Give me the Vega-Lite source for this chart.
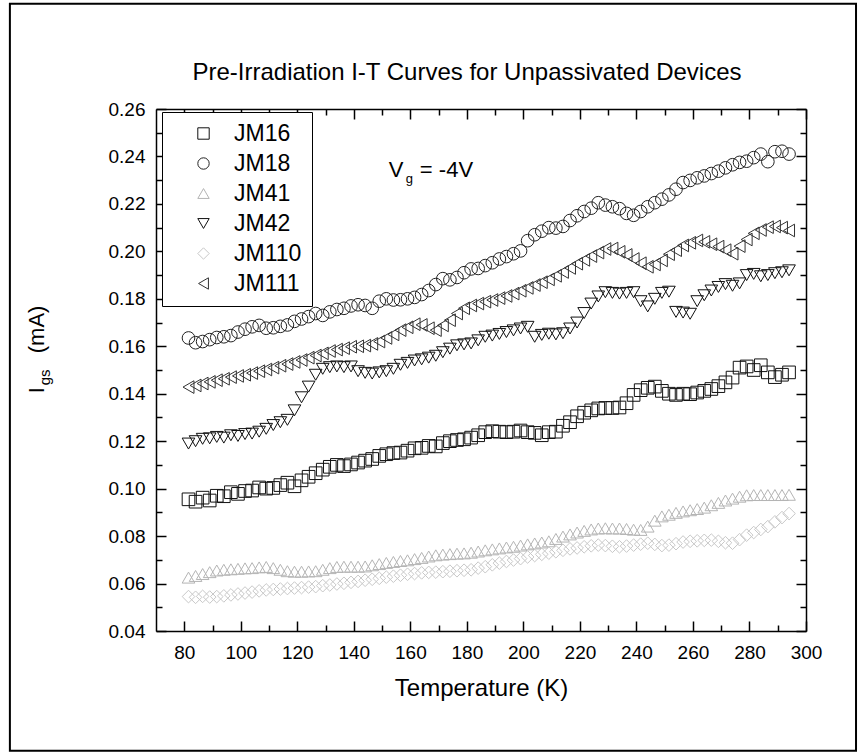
{
  "$schema": "https://vega.github.io/schema/vega-lite/v6.json",
  "width": 650,
  "height": 522,
  "autosize": {"type": "none"},
  "padding": {"left": 156, "top": 109, "right": 58, "bottom": 122},
  "background": "white",
  "title": {"text": "Pre-Irradiation I-T Curves for Unpassivated Devices", "fontSize": 24, "font": "Liberation Sans", "fontWeight": "normal", "baseline": "alphabetic", "offset": 0, "dy": 101, "dx": -14, "color": "black"},
  "config": {
    "font": "Liberation Sans",
    "view": {"stroke": null},
    "axis": {"domainColor": "black", "domainWidth": 1.5, "tickColor": "black", "tickWidth": 1.5, "labelColor": "black", "labelFontSize": 19, "labelFont": "Liberation Sans", "grid": false, "titleColor": "black", "titleFont": "Liberation Sans", "titleFontWeight": "normal", "labelFlush": false},
    "legend": {"orient": "none", "legendX": 6, "legendY": 3, "strokeColor": "black", "fillColor": "white", "padding": 10, "labelFontSize": 23, "labelFont": "Liberation Sans", "labelColor": "black", "symbolSize": 130, "symbolStrokeWidth": 1, "rowPadding": 6, "symbolOffset": 20, "labelOffset": 19}
  },
  "data": {"values": [
{"device":"JM16","T":81.5,"I":0.0955},{"device":"JM16","T":84,"I":0.0945},{"device":"JM16","T":86.5,"I":0.0962},{"device":"JM16","T":89,"I":0.0950},{"device":"JM16","T":91.5,"I":0.0970},{"device":"JM16","T":94,"I":0.0968},{"device":"JM16","T":96.5,"I":0.0985},{"device":"JM16","T":99,"I":0.0978},{"device":"JM16","T":101.5,"I":0.0990},{"device":"JM16","T":104,"I":0.0992},
{"device":"JM16","T":106.5,"I":0.1005},{"device":"JM16","T":109,"I":0.1000},{"device":"JM16","T":111.5,"I":0.1003},{"device":"JM16","T":114,"I":0.1015},{"device":"JM16","T":116.5,"I":0.1025},{"device":"JM16","T":119,"I":0.1010},{"device":"JM16","T":121.5,"I":0.1035},{"device":"JM16","T":124,"I":0.1050},{"device":"JM16","T":126.5,"I":0.1065},{"device":"JM16","T":129,"I":0.1080},
{"device":"JM16","T":131.5,"I":0.1092},{"device":"JM16","T":134,"I":0.1100},{"device":"JM16","T":136.5,"I":0.1095},{"device":"JM16","T":139,"I":0.1102},{"device":"JM16","T":141.5,"I":0.1110},{"device":"JM16","T":144,"I":0.1118},{"device":"JM16","T":146.5,"I":0.1125},{"device":"JM16","T":149,"I":0.1138},{"device":"JM16","T":151.5,"I":0.1145},{"device":"JM16","T":154,"I":0.1150},
{"device":"JM16","T":156.5,"I":0.1152},{"device":"JM16","T":159,"I":0.1160},{"device":"JM16","T":161.5,"I":0.1170},{"device":"JM16","T":164,"I":0.1172},{"device":"JM16","T":166.5,"I":0.1180},{"device":"JM16","T":169,"I":0.1178},{"device":"JM16","T":171.5,"I":0.1192},{"device":"JM16","T":174,"I":0.1200},{"device":"JM16","T":176.5,"I":0.1205},{"device":"JM16","T":179,"I":0.1208},
{"device":"JM16","T":181.5,"I":0.1215},{"device":"JM16","T":184,"I":0.1225},{"device":"JM16","T":186.5,"I":0.1238},{"device":"JM16","T":189,"I":0.1242},{"device":"JM16","T":191.5,"I":0.1240},{"device":"JM16","T":194,"I":0.1238},{"device":"JM16","T":196.5,"I":0.1240},{"device":"JM16","T":199,"I":0.1245},{"device":"JM16","T":201.5,"I":0.1238},{"device":"JM16","T":204,"I":0.1235},
{"device":"JM16","T":206.5,"I":0.1225},{"device":"JM16","T":209,"I":0.1238},{"device":"JM16","T":211.5,"I":0.1240},{"device":"JM16","T":214,"I":0.1265},{"device":"JM16","T":216.5,"I":0.1280},{"device":"JM16","T":219,"I":0.1305},{"device":"JM16","T":221.5,"I":0.1320},{"device":"JM16","T":224,"I":0.1330},{"device":"JM16","T":226.5,"I":0.1338},{"device":"JM16","T":229,"I":0.1340},
{"device":"JM16","T":231.5,"I":0.1340},{"device":"JM16","T":234,"I":0.1342},{"device":"JM16","T":236.5,"I":0.1360},{"device":"JM16","T":239,"I":0.1395},{"device":"JM16","T":241.5,"I":0.1415},{"device":"JM16","T":244,"I":0.1425},{"device":"JM16","T":246.5,"I":0.1430},{"device":"JM16","T":249,"I":0.1412},{"device":"JM16","T":251.5,"I":0.1400},{"device":"JM16","T":254,"I":0.1395},
{"device":"JM16","T":256.5,"I":0.1400},{"device":"JM16","T":259,"I":0.1398},{"device":"JM16","T":261.5,"I":0.1405},{"device":"JM16","T":264,"I":0.1412},{"device":"JM16","T":266.5,"I":0.1420},{"device":"JM16","T":269,"I":0.1432},{"device":"JM16","T":271.5,"I":0.1448},{"device":"JM16","T":274,"I":0.1468},{"device":"JM16","T":276.5,"I":0.1510},{"device":"JM16","T":279,"I":0.1515},
{"device":"JM16","T":281.5,"I":0.1500},{"device":"JM16","T":284,"I":0.1520},{"device":"JM16","T":286.5,"I":0.1490},{"device":"JM16","T":289,"I":0.1470},{"device":"JM16","T":291.5,"I":0.1480},{"device":"JM16","T":294,"I":0.1490},
{"device":"JM18","T":81.5,"I":0.1635},{"device":"JM18","T":84,"I":0.1615},{"device":"JM18","T":86.5,"I":0.1620},{"device":"JM18","T":89,"I":0.1628},{"device":"JM18","T":91.5,"I":0.1637},{"device":"JM18","T":94,"I":0.1640},{"device":"JM18","T":96.5,"I":0.1645},{"device":"JM18","T":99,"I":0.1660},{"device":"JM18","T":101.5,"I":0.1672},{"device":"JM18","T":104,"I":0.1682},
{"device":"JM18","T":106.5,"I":0.1688},{"device":"JM18","T":109,"I":0.1676},{"device":"JM18","T":111.5,"I":0.1678},{"device":"JM18","T":114,"I":0.1684},{"device":"JM18","T":116.5,"I":0.1690},{"device":"JM18","T":119,"I":0.1705},{"device":"JM18","T":121.5,"I":0.1715},{"device":"JM18","T":124,"I":0.1725},{"device":"JM18","T":126.5,"I":0.1738},{"device":"JM18","T":129,"I":0.1730},
{"device":"JM18","T":131.5,"I":0.1745},{"device":"JM18","T":134,"I":0.1755},{"device":"JM18","T":136.5,"I":0.1760},{"device":"JM18","T":139,"I":0.1770},{"device":"JM18","T":141.5,"I":0.1775},{"device":"JM18","T":144,"I":0.1772},{"device":"JM18","T":146.5,"I":0.1760},{"device":"JM18","T":149,"I":0.1790},{"device":"JM18","T":151.5,"I":0.1800},{"device":"JM18","T":154,"I":0.1795},
{"device":"JM18","T":156.5,"I":0.1796},{"device":"JM18","T":159,"I":0.1800},{"device":"JM18","T":161.5,"I":0.1806},{"device":"JM18","T":164,"I":0.1818},{"device":"JM18","T":166.5,"I":0.1835},{"device":"JM18","T":169,"I":0.1860},{"device":"JM18","T":171.5,"I":0.1885},{"device":"JM18","T":174,"I":0.1880},{"device":"JM18","T":176.5,"I":0.1890},{"device":"JM18","T":179,"I":0.1910},
{"device":"JM18","T":181.5,"I":0.1926},{"device":"JM18","T":184,"I":0.1928},{"device":"JM18","T":186.5,"I":0.1940},{"device":"JM18","T":189,"I":0.1952},{"device":"JM18","T":191.5,"I":0.1968},{"device":"JM18","T":194,"I":0.1978},{"device":"JM18","T":196.5,"I":0.1990},{"device":"JM18","T":199,"I":0.2002},{"device":"JM18","T":201.5,"I":0.2045},{"device":"JM18","T":204,"I":0.2070},
{"device":"JM18","T":206.5,"I":0.2085},{"device":"JM18","T":209,"I":0.2100},{"device":"JM18","T":211.5,"I":0.2098},{"device":"JM18","T":214,"I":0.2105},{"device":"JM18","T":216.5,"I":0.2130},{"device":"JM18","T":219,"I":0.2150},{"device":"JM18","T":221.5,"I":0.2168},{"device":"JM18","T":224,"I":0.2182},{"device":"JM18","T":226.5,"I":0.2205},{"device":"JM18","T":229,"I":0.2195},
{"device":"JM18","T":231.5,"I":0.2188},{"device":"JM18","T":234,"I":0.2180},{"device":"JM18","T":236.5,"I":0.2160},{"device":"JM18","T":239,"I":0.2152},{"device":"JM18","T":241.5,"I":0.2168},{"device":"JM18","T":244,"I":0.2188},{"device":"JM18","T":246.5,"I":0.2205},{"device":"JM18","T":249,"I":0.2220},{"device":"JM18","T":251.5,"I":0.2238},{"device":"JM18","T":254,"I":0.2262},
{"device":"JM18","T":256.5,"I":0.2290},{"device":"JM18","T":259,"I":0.2299},{"device":"JM18","T":261.5,"I":0.2310},{"device":"JM18","T":264,"I":0.2318},{"device":"JM18","T":266.5,"I":0.2328},{"device":"JM18","T":269,"I":0.2338},{"device":"JM18","T":271.5,"I":0.2352},{"device":"JM18","T":274,"I":0.2365},{"device":"JM18","T":276.5,"I":0.2375},{"device":"JM18","T":279,"I":0.2380},
{"device":"JM18","T":281.5,"I":0.2395},{"device":"JM18","T":284,"I":0.2410},{"device":"JM18","T":286.5,"I":0.2378},{"device":"JM18","T":289,"I":0.2420},{"device":"JM18","T":291.5,"I":0.2422},{"device":"JM18","T":294,"I":0.2410},
{"device":"JM41","T":81.5,"I":0.0625},{"device":"JM41","T":84,"I":0.0632},{"device":"JM41","T":86.5,"I":0.0640},{"device":"JM41","T":89,"I":0.0648},{"device":"JM41","T":91.5,"I":0.0655},{"device":"JM41","T":94,"I":0.0658},{"device":"JM41","T":96.5,"I":0.0660},{"device":"JM41","T":99,"I":0.0662},{"device":"JM41","T":101.5,"I":0.0664},{"device":"JM41","T":104,"I":0.0665},
{"device":"JM41","T":106.5,"I":0.0668},{"device":"JM41","T":109,"I":0.0670},{"device":"JM41","T":111.5,"I":0.0665},{"device":"JM41","T":114,"I":0.0658},{"device":"JM41","T":116.5,"I":0.0652},{"device":"JM41","T":119,"I":0.0650},{"device":"JM41","T":121.5,"I":0.0650},{"device":"JM41","T":124,"I":0.0651},{"device":"JM41","T":126.5,"I":0.0652},{"device":"JM41","T":129,"I":0.0658},
{"device":"JM41","T":131.5,"I":0.0665},{"device":"JM41","T":134,"I":0.0670},{"device":"JM41","T":136.5,"I":0.0671},{"device":"JM41","T":139,"I":0.0671},{"device":"JM41","T":141.5,"I":0.0671},{"device":"JM41","T":144,"I":0.0672},{"device":"JM41","T":146.5,"I":0.0677},{"device":"JM41","T":149,"I":0.0682},{"device":"JM41","T":151.5,"I":0.0687},{"device":"JM41","T":154,"I":0.0691},
{"device":"JM41","T":156.5,"I":0.0695},{"device":"JM41","T":159,"I":0.0698},{"device":"JM41","T":161.5,"I":0.0703},{"device":"JM41","T":164,"I":0.0708},{"device":"JM41","T":166.5,"I":0.0714},{"device":"JM41","T":169,"I":0.0719},{"device":"JM41","T":171.5,"I":0.0722},{"device":"JM41","T":174,"I":0.0724},{"device":"JM41","T":176.5,"I":0.0726},{"device":"JM41","T":179,"I":0.0727},
{"device":"JM41","T":181.5,"I":0.0730},{"device":"JM41","T":184,"I":0.0735},{"device":"JM41","T":186.5,"I":0.0740},{"device":"JM41","T":189,"I":0.0744},{"device":"JM41","T":191.5,"I":0.0748},{"device":"JM41","T":194,"I":0.0752},{"device":"JM41","T":196.5,"I":0.0755},{"device":"JM41","T":199,"I":0.0760},{"device":"JM41","T":201.5,"I":0.0765},{"device":"JM41","T":204,"I":0.0769},
{"device":"JM41","T":206.5,"I":0.0773},{"device":"JM41","T":209,"I":0.0778},{"device":"JM41","T":211.5,"I":0.0788},{"device":"JM41","T":214,"I":0.0798},{"device":"JM41","T":216.5,"I":0.0807},{"device":"JM41","T":219,"I":0.0815},{"device":"JM41","T":221.5,"I":0.0822},{"device":"JM41","T":224,"I":0.0828},{"device":"JM41","T":226.5,"I":0.0832},{"device":"JM41","T":229,"I":0.0833},
{"device":"JM41","T":231.5,"I":0.0832},{"device":"JM41","T":234,"I":0.0832},{"device":"JM41","T":236.5,"I":0.0830},{"device":"JM41","T":239,"I":0.0827},{"device":"JM41","T":241.5,"I":0.0826},{"device":"JM41","T":244,"I":0.0840},{"device":"JM41","T":246.5,"I":0.0865},{"device":"JM41","T":249,"I":0.0883},{"device":"JM41","T":251.5,"I":0.0890},{"device":"JM41","T":254,"I":0.0898},
{"device":"JM41","T":256.5,"I":0.0904},{"device":"JM41","T":259,"I":0.0909},{"device":"JM41","T":261.5,"I":0.0914},{"device":"JM41","T":264,"I":0.0920},{"device":"JM41","T":266.5,"I":0.0930},{"device":"JM41","T":269,"I":0.0940},{"device":"JM41","T":271.5,"I":0.0950},{"device":"JM41","T":274,"I":0.0958},{"device":"JM41","T":276.5,"I":0.0966},{"device":"JM41","T":279,"I":0.0972},
{"device":"JM41","T":281.5,"I":0.0973},{"device":"JM41","T":284,"I":0.0973},{"device":"JM41","T":286.5,"I":0.0973},{"device":"JM41","T":289,"I":0.0973},{"device":"JM41","T":291.5,"I":0.0973},{"device":"JM41","T":294,"I":0.0974},
{"device":"JM42","T":81.5,"I":0.1190},{"device":"JM42","T":84,"I":0.1200},{"device":"JM42","T":86.5,"I":0.1210},{"device":"JM42","T":89,"I":0.1212},{"device":"JM42","T":91.5,"I":0.1218},{"device":"JM42","T":94,"I":0.1215},{"device":"JM42","T":96.5,"I":0.1225},{"device":"JM42","T":99,"I":0.1222},{"device":"JM42","T":101.5,"I":0.1230},{"device":"JM42","T":104,"I":0.1232},
{"device":"JM42","T":106.5,"I":0.1240},{"device":"JM42","T":109,"I":0.1252},{"device":"JM42","T":111.5,"I":0.1268},{"device":"JM42","T":114,"I":0.1280},{"device":"JM42","T":116.5,"I":0.1290},{"device":"JM42","T":119,"I":0.1330},{"device":"JM42","T":121.5,"I":0.1385},{"device":"JM42","T":124,"I":0.1430},{"device":"JM42","T":126.5,"I":0.1480},{"device":"JM42","T":129,"I":0.1505},
{"device":"JM42","T":131.5,"I":0.1512},{"device":"JM42","T":134,"I":0.1515},{"device":"JM42","T":136.5,"I":0.1512},{"device":"JM42","T":139,"I":0.1515},{"device":"JM42","T":141.5,"I":0.1495},{"device":"JM42","T":144,"I":0.1488},{"device":"JM42","T":146.5,"I":0.1485},{"device":"JM42","T":149,"I":0.1490},{"device":"JM42","T":151.5,"I":0.1495},{"device":"JM42","T":154,"I":0.1505},
{"device":"JM42","T":156.5,"I":0.1522},{"device":"JM42","T":159,"I":0.1530},{"device":"JM42","T":161.5,"I":0.1540},{"device":"JM42","T":164,"I":0.1545},{"device":"JM42","T":166.5,"I":0.1552},{"device":"JM42","T":169,"I":0.1560},{"device":"JM42","T":171.5,"I":0.1575},{"device":"JM42","T":174,"I":0.1590},{"device":"JM42","T":176.5,"I":0.1604},{"device":"JM42","T":179,"I":0.1608},
{"device":"JM42","T":181.5,"I":0.1612},{"device":"JM42","T":184,"I":0.1625},{"device":"JM42","T":186.5,"I":0.1640},{"device":"JM42","T":189,"I":0.1645},{"device":"JM42","T":191.5,"I":0.1652},{"device":"JM42","T":194,"I":0.1660},{"device":"JM42","T":196.5,"I":0.1667},{"device":"JM42","T":199,"I":0.1675},{"device":"JM42","T":201.5,"I":0.1682},{"device":"JM42","T":204,"I":0.1640},
{"device":"JM42","T":206.5,"I":0.1648},{"device":"JM42","T":209,"I":0.1653},{"device":"JM42","T":211.5,"I":0.1650},{"device":"JM42","T":214,"I":0.1655},{"device":"JM42","T":216.5,"I":0.1675},{"device":"JM42","T":219,"I":0.1700},{"device":"JM42","T":221.5,"I":0.1740},{"device":"JM42","T":224,"I":0.1780},{"device":"JM42","T":226.5,"I":0.1810},{"device":"JM42","T":229,"I":0.1828},
{"device":"JM42","T":231.5,"I":0.1825},{"device":"JM42","T":234,"I":0.1822},{"device":"JM42","T":236.5,"I":0.1825},{"device":"JM42","T":239,"I":0.1828},{"device":"JM42","T":241.5,"I":0.1790},{"device":"JM42","T":244,"I":0.1768},{"device":"JM42","T":246.5,"I":0.1800},{"device":"JM42","T":249,"I":0.1825},{"device":"JM42","T":251.5,"I":0.1830},{"device":"JM42","T":254,"I":0.1745},
{"device":"JM42","T":256.5,"I":0.1742},{"device":"JM42","T":259,"I":0.1737},{"device":"JM42","T":261.5,"I":0.1790},{"device":"JM42","T":264,"I":0.1815},{"device":"JM42","T":266.5,"I":0.1835},{"device":"JM42","T":269,"I":0.1850},{"device":"JM42","T":271.5,"I":0.1862},{"device":"JM42","T":274,"I":0.1855},{"device":"JM42","T":276.5,"I":0.1865},{"device":"JM42","T":279,"I":0.1900},
{"device":"JM42","T":281.5,"I":0.1905},{"device":"JM42","T":284,"I":0.1895},{"device":"JM42","T":286.5,"I":0.1900},{"device":"JM42","T":289,"I":0.1908},{"device":"JM42","T":291.5,"I":0.1912},{"device":"JM42","T":294,"I":0.1920},
{"device":"JM110","T":81.5,"I":0.0545},{"device":"JM110","T":84,"I":0.0542},{"device":"JM110","T":86.5,"I":0.0546},{"device":"JM110","T":89,"I":0.0543},{"device":"JM110","T":91.5,"I":0.0545},{"device":"JM110","T":94,"I":0.0548},{"device":"JM110","T":96.5,"I":0.0552},{"device":"JM110","T":99,"I":0.0556},{"device":"JM110","T":101.5,"I":0.0560},{"device":"JM110","T":104,"I":0.0564},
{"device":"JM110","T":106.5,"I":0.0569},{"device":"JM110","T":109,"I":0.0573},{"device":"JM110","T":111.5,"I":0.0575},{"device":"JM110","T":114,"I":0.0577},{"device":"JM110","T":116.5,"I":0.0579},{"device":"JM110","T":119,"I":0.0581},{"device":"JM110","T":121.5,"I":0.0583},{"device":"JM110","T":124,"I":0.0585},{"device":"JM110","T":126.5,"I":0.0587},{"device":"JM110","T":129,"I":0.0591},
{"device":"JM110","T":131.5,"I":0.0594},{"device":"JM110","T":134,"I":0.0598},{"device":"JM110","T":136.5,"I":0.0601},{"device":"JM110","T":139,"I":0.0605},{"device":"JM110","T":141.5,"I":0.0609},{"device":"JM110","T":144,"I":0.0614},{"device":"JM110","T":146.5,"I":0.0618},{"device":"JM110","T":149,"I":0.0622},{"device":"JM110","T":151.5,"I":0.0627},{"device":"JM110","T":154,"I":0.0631},
{"device":"JM110","T":156.5,"I":0.0635},{"device":"JM110","T":159,"I":0.0639},{"device":"JM110","T":161.5,"I":0.0642},{"device":"JM110","T":164,"I":0.0645},{"device":"JM110","T":166.5,"I":0.0647},{"device":"JM110","T":169,"I":0.0648},{"device":"JM110","T":171.5,"I":0.0650},{"device":"JM110","T":174,"I":0.0652},{"device":"JM110","T":176.5,"I":0.0654},{"device":"JM110","T":179,"I":0.0656},
{"device":"JM110","T":181.5,"I":0.0658},{"device":"JM110","T":184,"I":0.0665},{"device":"JM110","T":186.5,"I":0.0671},{"device":"JM110","T":189,"I":0.0679},{"device":"JM110","T":191.5,"I":0.0686},{"device":"JM110","T":194,"I":0.0693},{"device":"JM110","T":196.5,"I":0.0699},{"device":"JM110","T":199,"I":0.0705},{"device":"JM110","T":201.5,"I":0.0712},{"device":"JM110","T":204,"I":0.0718},
{"device":"JM110","T":206.5,"I":0.0723},{"device":"JM110","T":209,"I":0.0728},{"device":"JM110","T":211.5,"I":0.0734},{"device":"JM110","T":214,"I":0.0740},{"device":"JM110","T":216.5,"I":0.0746},{"device":"JM110","T":219,"I":0.0750},{"device":"JM110","T":221.5,"I":0.0755},{"device":"JM110","T":224,"I":0.0759},{"device":"JM110","T":226.5,"I":0.0762},{"device":"JM110","T":229,"I":0.0760},
{"device":"JM110","T":231.5,"I":0.0757},{"device":"JM110","T":234,"I":0.0755},{"device":"JM110","T":236.5,"I":0.0758},{"device":"JM110","T":239,"I":0.0762},{"device":"JM110","T":241.5,"I":0.0766},{"device":"JM110","T":244,"I":0.0770},{"device":"JM110","T":246.5,"I":0.0765},{"device":"JM110","T":249,"I":0.0760},{"device":"JM110","T":251.5,"I":0.0762},{"device":"JM110","T":254,"I":0.0768},
{"device":"JM110","T":256.5,"I":0.0775},{"device":"JM110","T":259,"I":0.0778},{"device":"JM110","T":261.5,"I":0.0780},{"device":"JM110","T":264,"I":0.0782},{"device":"JM110","T":266.5,"I":0.0783},{"device":"JM110","T":269,"I":0.0778},{"device":"JM110","T":271.5,"I":0.0772},{"device":"JM110","T":274,"I":0.0770},{"device":"JM110","T":276.5,"I":0.0785},{"device":"JM110","T":279,"I":0.0804},
{"device":"JM110","T":281.5,"I":0.0815},{"device":"JM110","T":284,"I":0.0828},{"device":"JM110","T":286.5,"I":0.0840},{"device":"JM110","T":289,"I":0.0860},{"device":"JM110","T":291.5,"I":0.0878},{"device":"JM110","T":294,"I":0.0895},
{"device":"JM111","T":81.5,"I":0.1428},{"device":"JM111","T":84,"I":0.1435},{"device":"JM111","T":86.5,"I":0.1443},{"device":"JM111","T":89,"I":0.1450},{"device":"JM111","T":91.5,"I":0.1457},{"device":"JM111","T":94,"I":0.1463},{"device":"JM111","T":96.5,"I":0.1470},{"device":"JM111","T":99,"I":0.1475},{"device":"JM111","T":101.5,"I":0.1480},{"device":"JM111","T":104,"I":0.1487},
{"device":"JM111","T":106.5,"I":0.1495},{"device":"JM111","T":109,"I":0.1502},{"device":"JM111","T":111.5,"I":0.1510},{"device":"JM111","T":114,"I":0.1518},{"device":"JM111","T":116.5,"I":0.1525},{"device":"JM111","T":119,"I":0.1534},{"device":"JM111","T":121.5,"I":0.1542},{"device":"JM111","T":124,"I":0.1552},{"device":"JM111","T":126.5,"I":0.1561},{"device":"JM111","T":129,"I":0.1570},
{"device":"JM111","T":131.5,"I":0.1580},{"device":"JM111","T":134,"I":0.1586},{"device":"JM111","T":136.5,"I":0.1592},{"device":"JM111","T":139,"I":0.1598},{"device":"JM111","T":141.5,"I":0.1600},{"device":"JM111","T":144,"I":0.1603},{"device":"JM111","T":146.5,"I":0.1610},{"device":"JM111","T":149,"I":0.1620},{"device":"JM111","T":151.5,"I":0.1635},{"device":"JM111","T":154,"I":0.1650},
{"device":"JM111","T":156.5,"I":0.1668},{"device":"JM111","T":159,"I":0.1680},{"device":"JM111","T":161.5,"I":0.1693},{"device":"JM111","T":164,"I":0.1690},{"device":"JM111","T":166.5,"I":0.1676},{"device":"JM111","T":169,"I":0.1668},{"device":"JM111","T":171.5,"I":0.1688},{"device":"JM111","T":174,"I":0.1710},{"device":"JM111","T":176.5,"I":0.1738},{"device":"JM111","T":179,"I":0.1760},
{"device":"JM111","T":181.5,"I":0.1772},{"device":"JM111","T":184,"I":0.1780},{"device":"JM111","T":186.5,"I":0.1788},{"device":"JM111","T":189,"I":0.1795},{"device":"JM111","T":191.5,"I":0.1803},{"device":"JM111","T":194,"I":0.1812},{"device":"JM111","T":196.5,"I":0.1822},{"device":"JM111","T":199,"I":0.1834},{"device":"JM111","T":201.5,"I":0.1846},{"device":"JM111","T":204,"I":0.1858},
{"device":"JM111","T":206.5,"I":0.1870},{"device":"JM111","T":209,"I":0.1882},{"device":"JM111","T":211.5,"I":0.1897},{"device":"JM111","T":214,"I":0.1913},{"device":"JM111","T":216.5,"I":0.1930},{"device":"JM111","T":219,"I":0.1948},{"device":"JM111","T":221.5,"I":0.1964},{"device":"JM111","T":224,"I":0.1980},{"device":"JM111","T":226.5,"I":0.1995},{"device":"JM111","T":229,"I":0.2010},
{"device":"JM111","T":231.5,"I":0.2012},{"device":"JM111","T":234,"I":0.1998},{"device":"JM111","T":236.5,"I":0.1985},{"device":"JM111","T":239,"I":0.1968},{"device":"JM111","T":241.5,"I":0.1950},{"device":"JM111","T":244,"I":0.1935},{"device":"JM111","T":246.5,"I":0.1945},{"device":"JM111","T":249,"I":0.1962},{"device":"JM111","T":251.5,"I":0.1988},{"device":"JM111","T":254,"I":0.2005},
{"device":"JM111","T":256.5,"I":0.2025},{"device":"JM111","T":259,"I":0.2036},{"device":"JM111","T":261.5,"I":0.2046},{"device":"JM111","T":264,"I":0.2040},{"device":"JM111","T":266.5,"I":0.2030},{"device":"JM111","T":269,"I":0.2020},{"device":"JM111","T":271.5,"I":0.2005},{"device":"JM111","T":274,"I":0.1990},{"device":"JM111","T":276.5,"I":0.2022},{"device":"JM111","T":279,"I":0.2050},
{"device":"JM111","T":281.5,"I":0.2076},{"device":"JM111","T":284,"I":0.2090},{"device":"JM111","T":286.5,"I":0.2102},{"device":"JM111","T":289,"I":0.2105},{"device":"JM111","T":291.5,"I":0.2100},{"device":"JM111","T":294,"I":0.2088}
  ]},
  "layer": [
    {
      "data": {"values": [{}]},
      "mark": {"type": "rect", "filled": false, "stroke": "black", "strokeWidth": 2},
      "encoding": {
        "x": {"datum": 18.3, "type": "quantitative", "axis": null},
        "x2": {"datum": 317.7},
        "y": {"datum": 0.3044, "type": "quantitative", "axis": null},
        "y2": {"datum": -0.0105}
      }
    },
    {
      "mark": {"type": "point", "filled": false, "size": 160, "strokeWidth": 1, "opacity": 1},
      "encoding": {
        "x": {"field": "T", "type": "quantitative", "scale": {"domain": [70, 300], "nice": false, "zero": false},
          "axis": {"orient": "bottom", "values": [80,90,100,110,120,130,140,150,160,170,180,190,200,210,220,230,240,250,260,270,280,290,300], "format": "d",
            "tickSize": {"condition": {"test": "datum.value % 20 === 0", "value": -10}, "value": -6},
            "labelExpr": "datum.value % 20 === 0 ? datum.label : ''", "labelPadding": 22,
            "title": "Temperature (K)", "titleFontSize": 24, "titlePadding": 14}},
        "y": {"field": "I", "type": "quantitative", "scale": {"domain": [0.04, 0.26], "nice": false, "zero": false},
          "axis": {"orient": "left", "values": [0.04,0.05,0.06,0.07,0.08,0.09,0.10,0.11,0.12,0.13,0.14,0.15,0.16,0.17,0.18,0.19,0.20,0.21,0.22,0.23,0.24,0.25,0.26], "format": ".2f",
            "tickSize": {"condition": {"test": "round(datum.value * 100) % 2 === 0", "value": -10}, "value": -6},
            "labelExpr": "round(datum.value * 100) % 2 === 0 ? datum.label : ''", "labelPadding": 21, "title": null}},
        "shape": {"field": "device", "type": "nominal", "scale": {"domain": ["JM16","JM18","JM41","JM42","JM110","JM111"], "range": ["square","circle","triangle-up","triangle-down","diamond","triangle-left"]}, "legend": {"title": null}},
        "stroke": {"field": "device", "type": "nominal", "scale": {"domain": ["JM16","JM18","JM41","JM42","JM110","JM111"], "range": ["#111111","#222222","#b4b4b4","#111111","#c8c8c8","#333333"]}, "legend": {"title": null}}
      }
    },
    {
      "mark": {"type": "point", "opacity": 0},
      "encoding": {
        "x": {"field": "T", "type": "quantitative",
          "axis": {"orient": "top", "values": [80,90,100,110,120,130,140,150,160,170,180,190,200,210,220,230,240,250,260,270,280,290,300], "labels": false,
            "tickSize": {"condition": {"test": "datum.value % 20 === 0", "value": -10}, "value": -6}, "title": null}},
        "y": {"field": "I", "type": "quantitative",
          "axis": {"orient": "right", "values": [0.04,0.05,0.06,0.07,0.08,0.09,0.10,0.11,0.12,0.13,0.14,0.15,0.16,0.17,0.18,0.19,0.20,0.21,0.22,0.23,0.24,0.25,0.26], "labels": false,
            "tickSize": {"condition": {"test": "round(datum.value * 100) % 2 === 0", "value": -10}, "value": -6}, "title": null}}
      }
    },
    {
      "data": {"values": [{}]},
      "mark": {"type": "text", "text": "V", "fontSize": 22, "align": "left", "baseline": "alphabetic", "color": "black"},
      "encoding": {"x": {"datum": 152.4, "type": "quantitative", "axis": null}, "y": {"datum": 0.2312, "type": "quantitative", "axis": null}}
    },
    {
      "data": {"values": [{}]},
      "mark": {"type": "text", "text": "g", "fontSize": 13, "align": "left", "baseline": "alphabetic", "dx": 17, "dy": 6, "color": "black"},
      "encoding": {"x": {"datum": 152.4, "type": "quantitative", "axis": null}, "y": {"datum": 0.2312, "type": "quantitative", "axis": null}}
    },
    {
      "data": {"values": [{}]},
      "mark": {"type": "text", "text": "= -4V", "fontSize": 22, "align": "left", "baseline": "alphabetic", "dx": 31, "color": "black"},
      "encoding": {"x": {"datum": 152.4, "type": "quantitative", "axis": null}, "y": {"datum": 0.2312, "type": "quantitative", "axis": null}}
    },
    {
      "data": {"values": [{}]},
      "mark": {"type": "text", "text": "I", "fontSize": 22, "angle": 270, "align": "left", "baseline": "alphabetic", "color": "black"},
      "encoding": {"x": {"datum": 30.4, "type": "quantitative", "axis": null}, "y": {"datum": 0.1402, "type": "quantitative", "axis": null}}
    },
    {
      "data": {"values": [{}]},
      "mark": {"type": "text", "text": "gs", "fontSize": 15, "angle": 270, "align": "left", "baseline": "alphabetic", "dx": 8, "dy": 6, "color": "black"},
      "encoding": {"x": {"datum": 30.4, "type": "quantitative", "axis": null}, "y": {"datum": 0.1402, "type": "quantitative", "axis": null}}
    },
    {
      "data": {"values": [{}]},
      "mark": {"type": "text", "text": "(mA)", "fontSize": 22, "angle": 270, "align": "left", "baseline": "alphabetic", "dx": 40, "color": "black"},
      "encoding": {"x": {"datum": 30.4, "type": "quantitative", "axis": null}, "y": {"datum": 0.1402, "type": "quantitative", "axis": null}}
    }
  ],
  "resolve": {"axis": {"x": "independent", "y": "independent"}}
}
